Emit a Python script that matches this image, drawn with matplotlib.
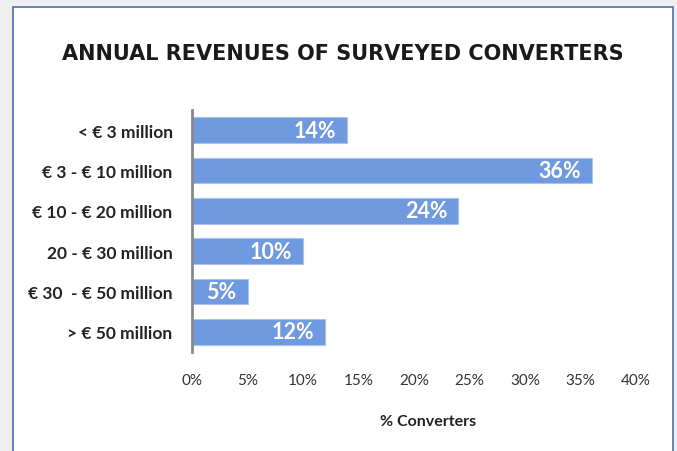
import matplotlib.pyplot as plt
from matplotlib.patches import Rectangle

categories = ['< € 3 million', '€ 3 - € 10 million', '€ 10 - € 20 million',
              '20 - € 30 million', '€ 30  - € 50 million', '> € 50 million']
shares = [14, 36, 24, 10, 5, 12]
xticks = [0, 5, 10, 15, 20, 25, 30, 35, 40]

fig = plt.figure(figsize=(6.77, 4.52), dpi=100)
fig.patch.set_facecolor('#efefef')

# white card with blue border, kept behind the axes
card = Rectangle((13 / 677, -0.05), 660 / 677, 1.05 - 8 / 452,
                 transform=fig.transFigure, facecolor='white',
                 edgecolor='#4a6fb5', linewidth=1.2, zorder=-10)
fig.patches.append(card)

ax = fig.add_axes([192 / 677, 99 / 452, 444 / 677, 242 / 452])
ax.set_facecolor('none')

ypos = list(range(len(categories)))
ax.barh(ypos, shares, height=0.64, color='#6f9ae0', edgecolor='#a9c3ee',
        linewidth=0.8)
for y, v in zip(ypos, shares):
    ax.text(v - 1.0, y, f'{v}%', ha='right', va='center', color='white',
            fontsize=15.5, fontweight='bold', family='Lato')

ax.set_xlim(0, 40)
ax.set_ylim(len(categories) - 0.5, -0.5)
ax.set_yticks(ypos)
ax.set_yticklabels(categories, fontsize=12.5, fontweight='bold', family='Lato',
                   color='#222222')
ax.set_xticks(xticks)
ax.set_xticklabels([f'{t}%' for t in xticks], fontsize=11, family='Lato',
                   color='#333333')
ax.tick_params(axis='y', length=0, pad=14)
ax.tick_params(axis='x', length=0, pad=15)

for s in ['top', 'right', 'bottom']:
    ax.spines[s].set_visible(False)
ax.spines['left'].set_color('#888888')
ax.spines['left'].set_linewidth(2)

ax.set_xlabel('% Converters', fontsize=11.5, fontweight='bold', family='Lato',
              color='#222222')
ax.xaxis.set_label_coords(0.532, -0.255)

fig.text(343 / 677, 1 - 54 / 452, 'ANNUAL REVENUES OF SURVEYED CONVERTERS',
         ha='center', va='center', fontsize=15, color='#1a1a1a',
         fontweight='bold', family='DejaVu Sans')

fig.savefig('out.png', dpi=100, facecolor=fig.get_facecolor())
